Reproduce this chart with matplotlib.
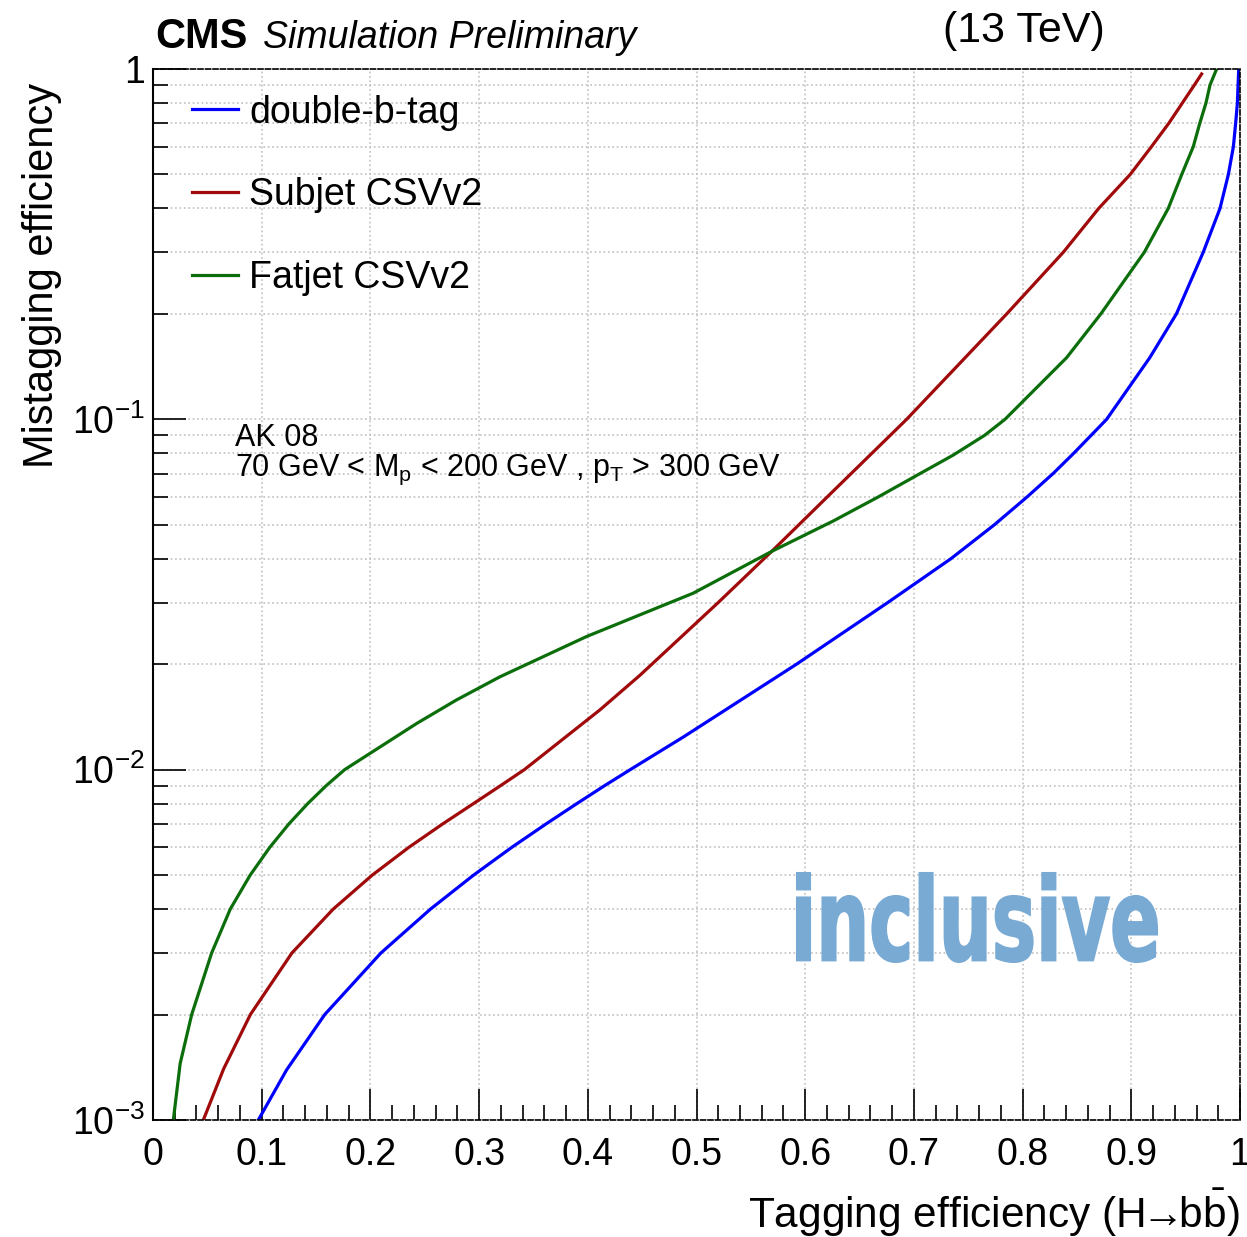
import numpy as np
import matplotlib
matplotlib.use("Agg")
import matplotlib.pyplot as plt
from matplotlib.ticker import FixedLocator, FuncFormatter, LogLocator, MultipleLocator
from matplotlib.textpath import TextPath
from matplotlib.patches import PathPatch
from matplotlib.font_manager import FontProperties
from matplotlib.transforms import Affine2D, IdentityTransform

plt.rcParams['font.family'] = ['Liberation Sans', 'DejaVu Sans']
plt.rcParams['mathtext.fontset'] = 'custom'
plt.rcParams['mathtext.rm'] = 'Liberation Sans'
plt.rcParams['mathtext.it'] = 'Liberation Sans:italic'
plt.rcParams['mathtext.bf'] = 'Liberation Sans:bold'

# ROC curves: signal (H->bb) efficiency vs mistag efficiency
series_names = ["double-b-tag", "Subjet CSVv2", "Fatjet CSVv2"]

blue_x = [0.0969, 0.1229, 0.158, 0.2098, 0.2553, 0.2949, 0.330, 0.3616, 0.3899, 0.4154,
          0.439, 0.488, 0.592, 0.676, 0.734, 0.774, 0.804, 0.828, 0.847, 0.863,
          0.8773, 0.917, 0.9415, 0.9662, 0.9816, 0.9893, 0.9939, 0.996, 0.9976, 0.9988]
blue_y = [1.0e-3, 1.39e-3, 2.0e-3, 3.0e-3, 4.0e-3, 5.0e-3, 6.0e-3, 7.0e-3, 8.0e-3, 9.0e-3,
          1.0e-2, 1.24e-2, 2.0e-2, 3.0e-2, 4.0e-2, 5.0e-2, 6.0e-2, 7.0e-2, 8.0e-2, 9.0e-2,
          0.1, 0.15, 0.2, 0.3, 0.4, 0.5, 0.6, 0.7, 0.8, 1.0]

red_x = [0.0463, 0.065, 0.0896, 0.1279, 0.1658, 0.2017, 0.2353, 0.2665, 0.2948, 0.3197,
         0.3416, 0.411, 0.448, 0.52, 0.5706, 0.626, 0.6933, 0.7854, 0.8375, 0.870,
         0.899, 0.9185, 0.9345, 0.947, 0.958, 0.9647]
red_y = [1.0e-3, 1.4e-3, 2.0e-3, 3.0e-3, 4.0e-3, 5.0e-3, 6.0e-3, 7.0e-3, 8.0e-3, 9.0e-3,
         1.0e-2, 1.48e-2, 1.86e-2, 3.0e-2, 4.24e-2, 6.25e-2, 0.1, 0.2, 0.3, 0.4,
         0.5, 0.6, 0.7, 0.8, 0.9, 0.968]

green_x = [0.0187, 0.025, 0.0356, 0.054, 0.0711, 0.0894, 0.1074, 0.125, 0.1423, 0.1593,
           0.1763, 0.2426, 0.279, 0.319, 0.399, 0.497, 0.5706, 0.626, 0.667, 0.702,
           0.736, 0.765, 0.7838, 0.8405, 0.872, 0.912, 0.934, 0.9464, 0.957, 0.963,
           0.9687, 0.9724, 0.9785]
green_y = [1.0e-3, 1.45e-3, 2.0e-3, 3.0e-3, 4.0e-3, 5.0e-3, 6.0e-3, 7.0e-3, 8.0e-3, 9.0e-3,
           1.0e-2, 1.355e-2, 1.58e-2, 1.84e-2, 2.4e-2, 3.19e-2, 4.22e-2, 5.13e-2, 6.0e-2, 6.9e-2,
           7.9e-2, 9.0e-2, 0.1, 0.15, 0.2, 0.3, 0.4, 0.5, 0.6, 0.7,
           0.8, 0.9, 1.0]

x_ticks = [0, 0.1, 0.2, 0.3, 0.4, 0.5, 0.6, 0.7, 0.8, 0.9, 1]
x_ticklabels = ["0", "0.1", "0.2", "0.3", "0.4", "0.5", "0.6", "0.7", "0.8", "0.9", "1"]
y_ticks = [1e-3, 1e-2, 1e-1, 1]
y_ticklabels = ["$10^{-3}$", "$10^{-2}$", "$10^{-1}$", "1"]

colors = ["#0000ff", "#a00a0a", "#0b6e0b"]

fig = plt.figure(figsize=(12.47, 12.37), dpi=100)
ax = fig.add_axes([153/1247, 1 - 1120/1237, 1087/1247, 1051/1237])

for xs, ys, c, name in zip([blue_x, red_x, green_x], [blue_y, red_y, green_y], colors, series_names):
    ax.plot(xs, ys, color=c, lw=2.3, label=name)

ax.set_yscale('log')
ax.set_xlim(0, 1)
ax.set_ylim(1e-3, 1)

ax.xaxis.set_major_locator(FixedLocator(x_ticks))
ax.set_xticklabels(x_ticklabels)
ax.xaxis.set_minor_locator(MultipleLocator(0.02))
ax.yaxis.set_major_locator(FixedLocator(y_ticks))
ax.set_yticklabels(y_ticklabels)
ax.yaxis.set_minor_locator(LogLocator(base=10, subs=np.arange(2, 10)))
ax.yaxis.set_minor_formatter(FuncFormatter(lambda v, p: ""))

ax.tick_params(which='both', direction='in', top=False, right=False, labelsize=27, color='black')
ax.tick_params(axis='x', which='major', length=22, width=1.2, pad=12)
ax.tick_params(axis='x', which='minor', length=11, width=1.2)
ax.tick_params(axis='y', which='major', length=24, width=1.2, pad=6)
ax.tick_params(axis='y', which='minor', length=11, width=1.2)

ax.grid(True, which='major', axis='x', color='#c0c0c0', linestyle=':', lw=1.2)
ax.grid(True, which='both', axis='y', color='#c0c0c0', linestyle=':', lw=1.2)
ax.set_axisbelow(True)

for side in ['top', 'right', 'bottom']:
    ax.spines[side].set_linestyle((0, (3, 1.5)))
    ax.spines[side].set_linewidth(1.2)
ax.spines['left'].set_linewidth(1.5)

ax.set_ylabel("Mistagging efficiency", fontsize=30, loc='top')
ax.yaxis.set_label_coords(-0.084, 0.987)
ax.set_xlabel("Tagging efficiency (H$\\!\\!\\rightarrow\\!\\!$b$\\bar{\\mathrm{b}}$)", fontsize=30.5, loc='right')
ax.xaxis.set_label_coords(1.0, -0.064)

leg = ax.legend(loc='upper left', bbox_to_anchor=(0.022, 0.990), frameon=False, fontsize=27,
                borderaxespad=0, handlelength=1.23, handletextpad=0.3, labelspacing=1.25)

fig.text(155/1247, 1 - 48/1237, "CMS", fontsize=30, fontweight='bold', va='baseline', ha='left')
fig.text(263/1247, 1 - 48/1237, "Simulation Preliminary", fontsize=27, style='italic',
         va='baseline', ha='left')
fig.text(1105/1247, 1 - 42/1237, "(13 TeV)", fontsize=31, va='baseline', ha='right')

ax.text((235 - 153)/1087, 1 - (438 - 69)/1051, "AK 08", fontsize=22, va='center', ha='left',
        transform=ax.transAxes)
ax.text((235 - 153)/1087, 1 - (470 - 69)/1051,
        "70 GeV < M$_{\\mathrm{p}}$ < 200 GeV , p$_{\\mathrm{T}}$ > 300 GeV",
        fontsize=22, va='center', ha='left', transform=ax.transAxes)

# "inclusive" tag, stretched into its box (pixels, origin bottom-left)
tp = TextPath((0, 0), "inclusive", size=100, prop=FontProperties(family='DejaVu Sans', weight='bold'))
ext = tp.get_extents()
box_x0, box_x1 = 797, 1157
box_y0, box_y1 = 1237 - 962, 1237 - 873
tr = (Affine2D().translate(-ext.x0, -ext.y0)
      .scale((box_x1 - box_x0) / ext.width, (box_y1 - box_y0) / ext.height)
      .translate(box_x0, box_y0))
fig.add_artist(PathPatch(tr.transform_path(tp), transform=IdentityTransform(),
                         facecolor='#78aad4', edgecolor='#78aad4', lw=1.5))

fig.savefig("out.png", dpi=100)
